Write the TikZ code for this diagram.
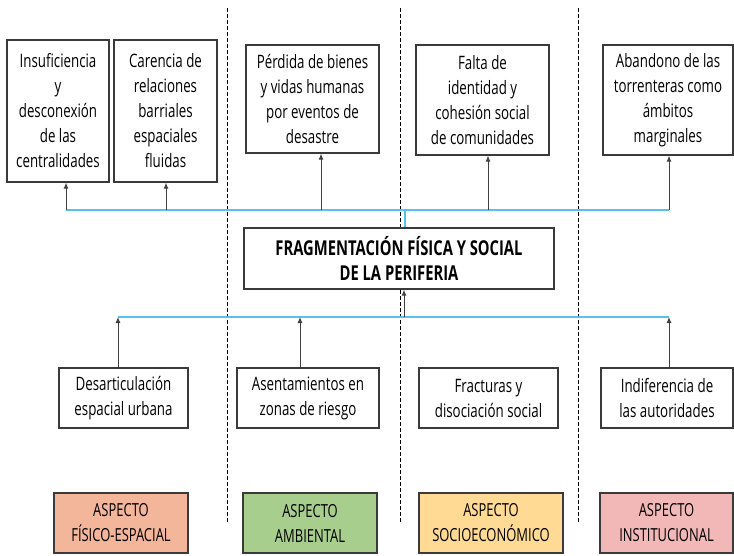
\documentclass[tikz,border=0pt]{standalone}
\usepackage{fontspec}
\setmainfont[FakeStretch=0.72]{Open Sans}
\usetikzlibrary{arrows.meta}
\definecolor{boxline}{HTML}{3A3A3A}
\definecolor{linkblue}{HTML}{56C1EE}
\definecolor{arrgray}{HTML}{404040}
\definecolor{cfis}{HTML}{F4B69B}
\definecolor{camb}{HTML}{A8CE8E}
\definecolor{csoc}{HTML}{FFDA94}
\definecolor{cins}{HTML}{F2B8B8}
\tikzset{
  box/.style={draw=boxline, line width=1.2pt, fill=white, align=center, inner sep=0pt,
    font=\fontsize{18.5}{25}\selectfont},
  titlebox/.style={box, font=\bfseries\fontsize{20.5}{25}\selectfont},
  aspect/.style={box, minimum width=134pt, minimum height=60pt, font=\fontsize{18}{25}\selectfont},
  arr/.style={draw=arrgray, line width=1pt, -{Latex[length=6pt,width=5pt]}},
  blueline/.style={draw=linkblue, line width=1.2pt},
  divider/.style={draw=black, line width=1pt, dash pattern=on 3.5pt off 2.5pt}
}
\begin{document}
\begin{tikzpicture}[x=1pt,y=-1pt]
\useasboundingbox (0,0) rectangle (734,555);
% dividers
\coordinate (d1a) at (227,8); \coordinate (d1b) at (227,523);
\coordinate (d2a) at (400,8); \coordinate (d2b) at (400,523);
\coordinate (d3a) at (578,8); \coordinate (d3b) at (578,523);
\draw[divider] (d1a) -- (d1b);
\draw[divider] (d2a) -- (d2b);
\draw[divider] (d3a) -- (d3b);
% top boxes
\node[box, minimum width=102pt, minimum height=142pt] (T1) at (58,111) {Insuficiencia\\y\\desconexión\\de las\\centralidades};
\node[box, minimum width=103pt, minimum height=142pt] (T2) at (165.5,111) {Carencia de\\relaciones\\barriales\\espaciales\\fluidas};
\node[box, minimum width=133pt, minimum height=108pt] (T3) at (312.5,99) {Pérdida de bienes\\y vidas humanas\\por eventos de\\desastre};
\node[box, minimum width=133pt, minimum height=110pt] (T4) at (482.5,100) {Falta de\\identidad y\\cohesión social\\de comunidades};
\node[box, minimum width=130pt, minimum height=110pt] (T5) at (668,100) {Abandono de las\\torrenteras como\\ámbitos\\marginales};
% central box
\node[titlebox, minimum width=310pt, minimum height=61pt] (C) at (399,258.5) {FRAGMENTACIÓN FÍSICA Y SOCIAL\\DE LA PERIFERIA};
% upper link line
\coordinate (u1) at (66,210);
\coordinate (u2) at (166,210);
\coordinate (u3) at (321,210);
\coordinate (u4) at (488,210);
\coordinate (u5) at (669,210);
\coordinate (uc) at (405,210);
\draw[blueline] (u1) -- (u5);
\draw[blueline] (uc) -- (uc |- C.north);
\draw[arr] (u1) -- (u1 |- T1.south);
\draw[arr] (u2) -- (u2 |- T2.south);
\draw[arr] (u3) -- (u3 |- T3.south);
\draw[arr] (u4) -- (u4 |- T4.south);
\draw[arr] (u5) -- (u5 |- T5.south);
% bottom boxes
\node[box, minimum width=129pt, minimum height=60pt] (B1) at (123.5,398) {Desarticulación\\espacial urbana};
\node[box, minimum width=142pt, minimum height=60pt] (B2) at (308,398) {Asentamientos en\\zonas de riesgo};
\node[box, minimum width=139pt, minimum height=60pt] (B3) at (488.5,398) {Fracturas y\\disociación social};
\node[box, minimum width=132pt, minimum height=60pt] (B4) at (667,398) {Indiferencia de\\las autoridades};
% lower link line
\coordinate (l1) at (118,317);
\coordinate (l2) at (300,317);
\coordinate (l4) at (669,317);
\coordinate (lc) at (404,317);
\draw[blueline] (l1) -- (l4);
\draw[arr] (lc) -- (lc |- C.south);
\draw[arr] (l1 |- B1.north) -- (l1);
\draw[arr] (l2 |- B2.north) -- (l2);
\draw[arr] (l4 |- B4.north) -- (l4);
% aspect boxes
\node[aspect, fill=cfis] (A1) at (121,523) {ASPECTO\\FÍSICO-ESPACIAL};
\node[aspect, fill=camb] (A2) at (310,523) {ASPECTO\\AMBIENTAL};
\node[aspect, fill=csoc, minimum width=144pt] (A3) at (491,523) {ASPECTO\\SOCIOECONÓMICO};
\node[aspect, fill=cins, minimum width=133pt] (A4) at (666.5,523) {ASPECTO\\INSTITUCIONAL};
\end{tikzpicture}
\end{document}
